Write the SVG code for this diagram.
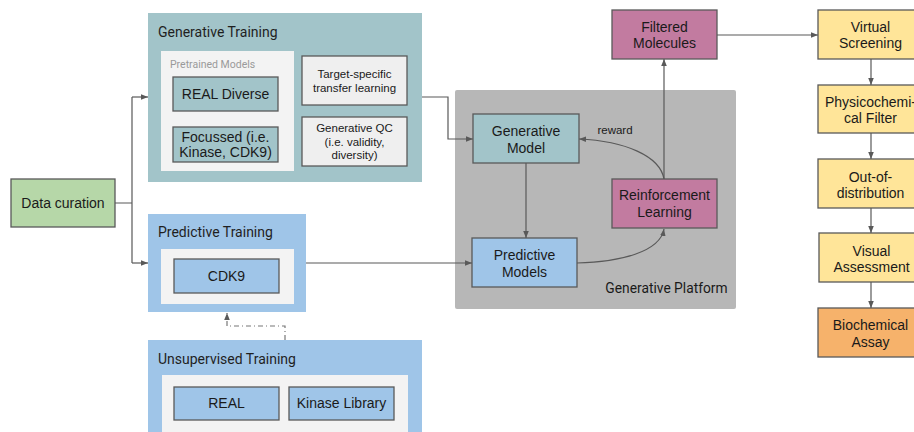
<svg xmlns="http://www.w3.org/2000/svg" width="914" height="432" viewBox="0 0 914 432">
<defs>
<marker id="ah" viewBox="0 0 10 10" refX="10" refY="5" markerWidth="7" markerHeight="7" orient="auto" markerUnits="userSpaceOnUse">
<path d="M0,1 L10,5 L0,9 z" fill="#595959"/>
</marker>
<style>
.box{stroke:#595959;stroke-width:1.3}
.teal{fill:#a2c4c9}
.blue{fill:#9fc5e8}
.pink{fill:#c27ba0}
.yel{fill:#ffe599}
.org{fill:#f6b26b}
.grn{fill:#b6d7a8}
.lg{fill:#efefef}
.inner{fill:#f3f3f3}
text{font-family:"Liberation Sans",Arial,sans-serif;font-size:14px;fill:#1a1a1a;text-anchor:middle}
.title{font-family:Roboto,"Liberation Sans",sans-serif;font-size:14px;text-anchor:start;fill:#1f1f1f}
.small{font-size:11.5px}
.conn{fill:none;stroke:#595959;stroke-width:1.2}
</style>
</defs>
<rect width="914" height="432" fill="#ffffff"/>

<g id="generative-training">
<rect x="148" y="13" width="274" height="169" class="teal"/>
<text class="title" x="158" y="37">Generative Training</text>
<rect x="161" y="51" width="133" height="120" class="inner"/>
<text x="170" y="68" style="font-family:Roboto,'Liberation Sans',sans-serif;font-size:10.5px;fill:#9a9a9a;text-anchor:start">Pretrained Models</text>
</g>
<g id="real-diverse">
<rect x="173" y="77" width="105" height="34" class="box teal"/>
<text x="225.5" y="99">REAL Diverse</text>
</g>
<g id="focussed">
<rect x="173" y="127" width="105" height="35" class="box teal"/>
<text x="225.5" y="142">Focussed (i.e.</text>
<text x="225.5" y="157">Kinase, CDK9)</text>
</g>
<g id="target-specific">
<rect x="302" y="56" width="105" height="49" class="box lg"/>
<text class="small" x="354.5" y="78">Target-specific</text>
<text class="small" x="354.5" y="92">transfer learning</text>
</g>
<g id="generative-qc">
<rect x="302" y="117" width="105" height="49" class="box lg"/>
<text class="small" x="354.5" y="132">Generative QC</text>
<text class="small" x="354.5" y="146">(i.e. validity,</text>
<text class="small" x="354.5" y="159">diversity)</text>
</g>

<g id="predictive-training">
<rect x="148" y="214" width="158" height="98" class="blue"/>
<text class="title" x="158" y="237">Predictive Training</text>
<rect x="161" y="249" width="133" height="55" class="inner"/>
</g>
<g id="cdk9">
<rect x="174" y="259" width="105" height="34" class="box blue"/>
<text x="226.5" y="281">CDK9</text>
</g>

<g id="unsupervised-training">
<rect x="148" y="340" width="274" height="100" class="blue"/>
<text class="title" x="158" y="364">Unsupervised Training</text>
<rect x="162" y="375" width="246" height="65" class="inner"/>
</g>
<g id="real">
<rect x="174" y="387" width="105" height="33" class="box blue"/>
<text x="226.5" y="408">REAL</text>
</g>
<g id="kinase-library">
<rect x="289" y="387" width="105" height="33" class="box blue"/>
<text x="341.5" y="408">Kinase Library</text>
</g>

<g id="data-curation">
<rect x="11" y="179" width="104" height="48" class="box grn"/>
<text x="63" y="208">Data curation</text>
</g>

<g id="generative-platform">
<rect x="455" y="90" width="281" height="219" rx="2" fill="#b7b7b7"/>
<text x="666.5" y="293" style="font-family:Roboto,'Liberation Sans',sans-serif;font-size:13.8px">Generative Platform</text>
</g>
<g id="generative-model">
<rect x="473" y="114" width="106" height="49" class="box teal"/>
<text x="526" y="136">Generative</text>
<text x="526" y="153">Model</text>
</g>
<g id="predictive-models">
<rect x="472" y="238" width="105" height="49" class="box blue"/>
<text x="524.5" y="260">Predictive</text>
<text x="524.5" y="277">Models</text>
</g>
<g id="reinforcement-learning">
<rect x="612" y="179" width="105" height="49" class="box pink"/>
<text x="664.5" y="200">Reinforcement</text>
<text x="664.5" y="217">Learning</text>
</g>
<g id="filtered-molecules">
<rect x="612" y="10" width="105" height="49" class="box pink"/>
<text x="664.5" y="32">Filtered</text>
<text x="664.5" y="48">Molecules</text>
</g>

<g id="virtual-screening">
<rect x="818" y="10" width="105" height="49" class="box yel"/>
<text x="870.5" y="32">Virtual</text>
<text x="870.5" y="48">Screening</text>
</g>
<g id="physicochemical-filter">
<rect x="818" y="85" width="105" height="48" class="box yel"/>
<text x="870.5" y="107">Physicochemi-</text>
<text x="870.5" y="123">cal Filter</text>
</g>
<g id="out-of-distribution">
<rect x="818" y="159" width="105" height="49" class="box yel"/>
<text x="870.5" y="182">Out-of-</text>
<text x="870.5" y="198">distribution</text>
</g>
<g id="visual-assessment">
<rect x="819" y="233" width="105" height="49" class="box yel"/>
<text x="871.5" y="256">Visual</text>
<text x="871.5" y="272">Assessment</text>
</g>
<g id="biochemical-assay">
<rect x="818" y="308" width="105" height="49" class="box org"/>
<text x="870.5" y="330">Biochemical</text>
<text x="870.5" y="347">Assay</text>
</g>

<g id="connectors">
<path class="conn" d="M115,203 H132 M132,97 V263" />
<path class="conn" d="M132,97 H148" marker-end="url(#ah)"/>
<path class="conn" d="M132,263 H148" marker-end="url(#ah)"/>
<path class="conn" d="M422,97 H448 V139 H473" marker-end="url(#ah)"/>
<path class="conn" d="M306,263 H472" marker-end="url(#ah)"/>
<path class="conn" d="M526,163 V238" marker-end="url(#ah)"/>
<path class="conn" d="M577,263 C620,262 660,252 664,229" marker-end="url(#ah)"/>
<path class="conn" d="M664,179 C660,156 625,141 579,139" marker-end="url(#ah)"/>
<text class="small" x="615" y="134" style="fill:#1a1a1a">reward</text>
<path class="conn" d="M664,179 V59" marker-end="url(#ah)"/>
<path class="conn" d="M717,35 H818" marker-end="url(#ah)"/>
<path class="conn" d="M871,59 V85" marker-end="url(#ah)"/>
<path class="conn" d="M871,133 V159" marker-end="url(#ah)"/>
<path class="conn" d="M871,208 V233" marker-end="url(#ah)"/>
<path class="conn" d="M871,282 V308" marker-end="url(#ah)"/>
<path class="conn" d="M285,340 V326 H227 V313" stroke-dasharray="5,3,1,3" style="stroke:#777" marker-end="url(#ah)"/>
</g>
</svg>
